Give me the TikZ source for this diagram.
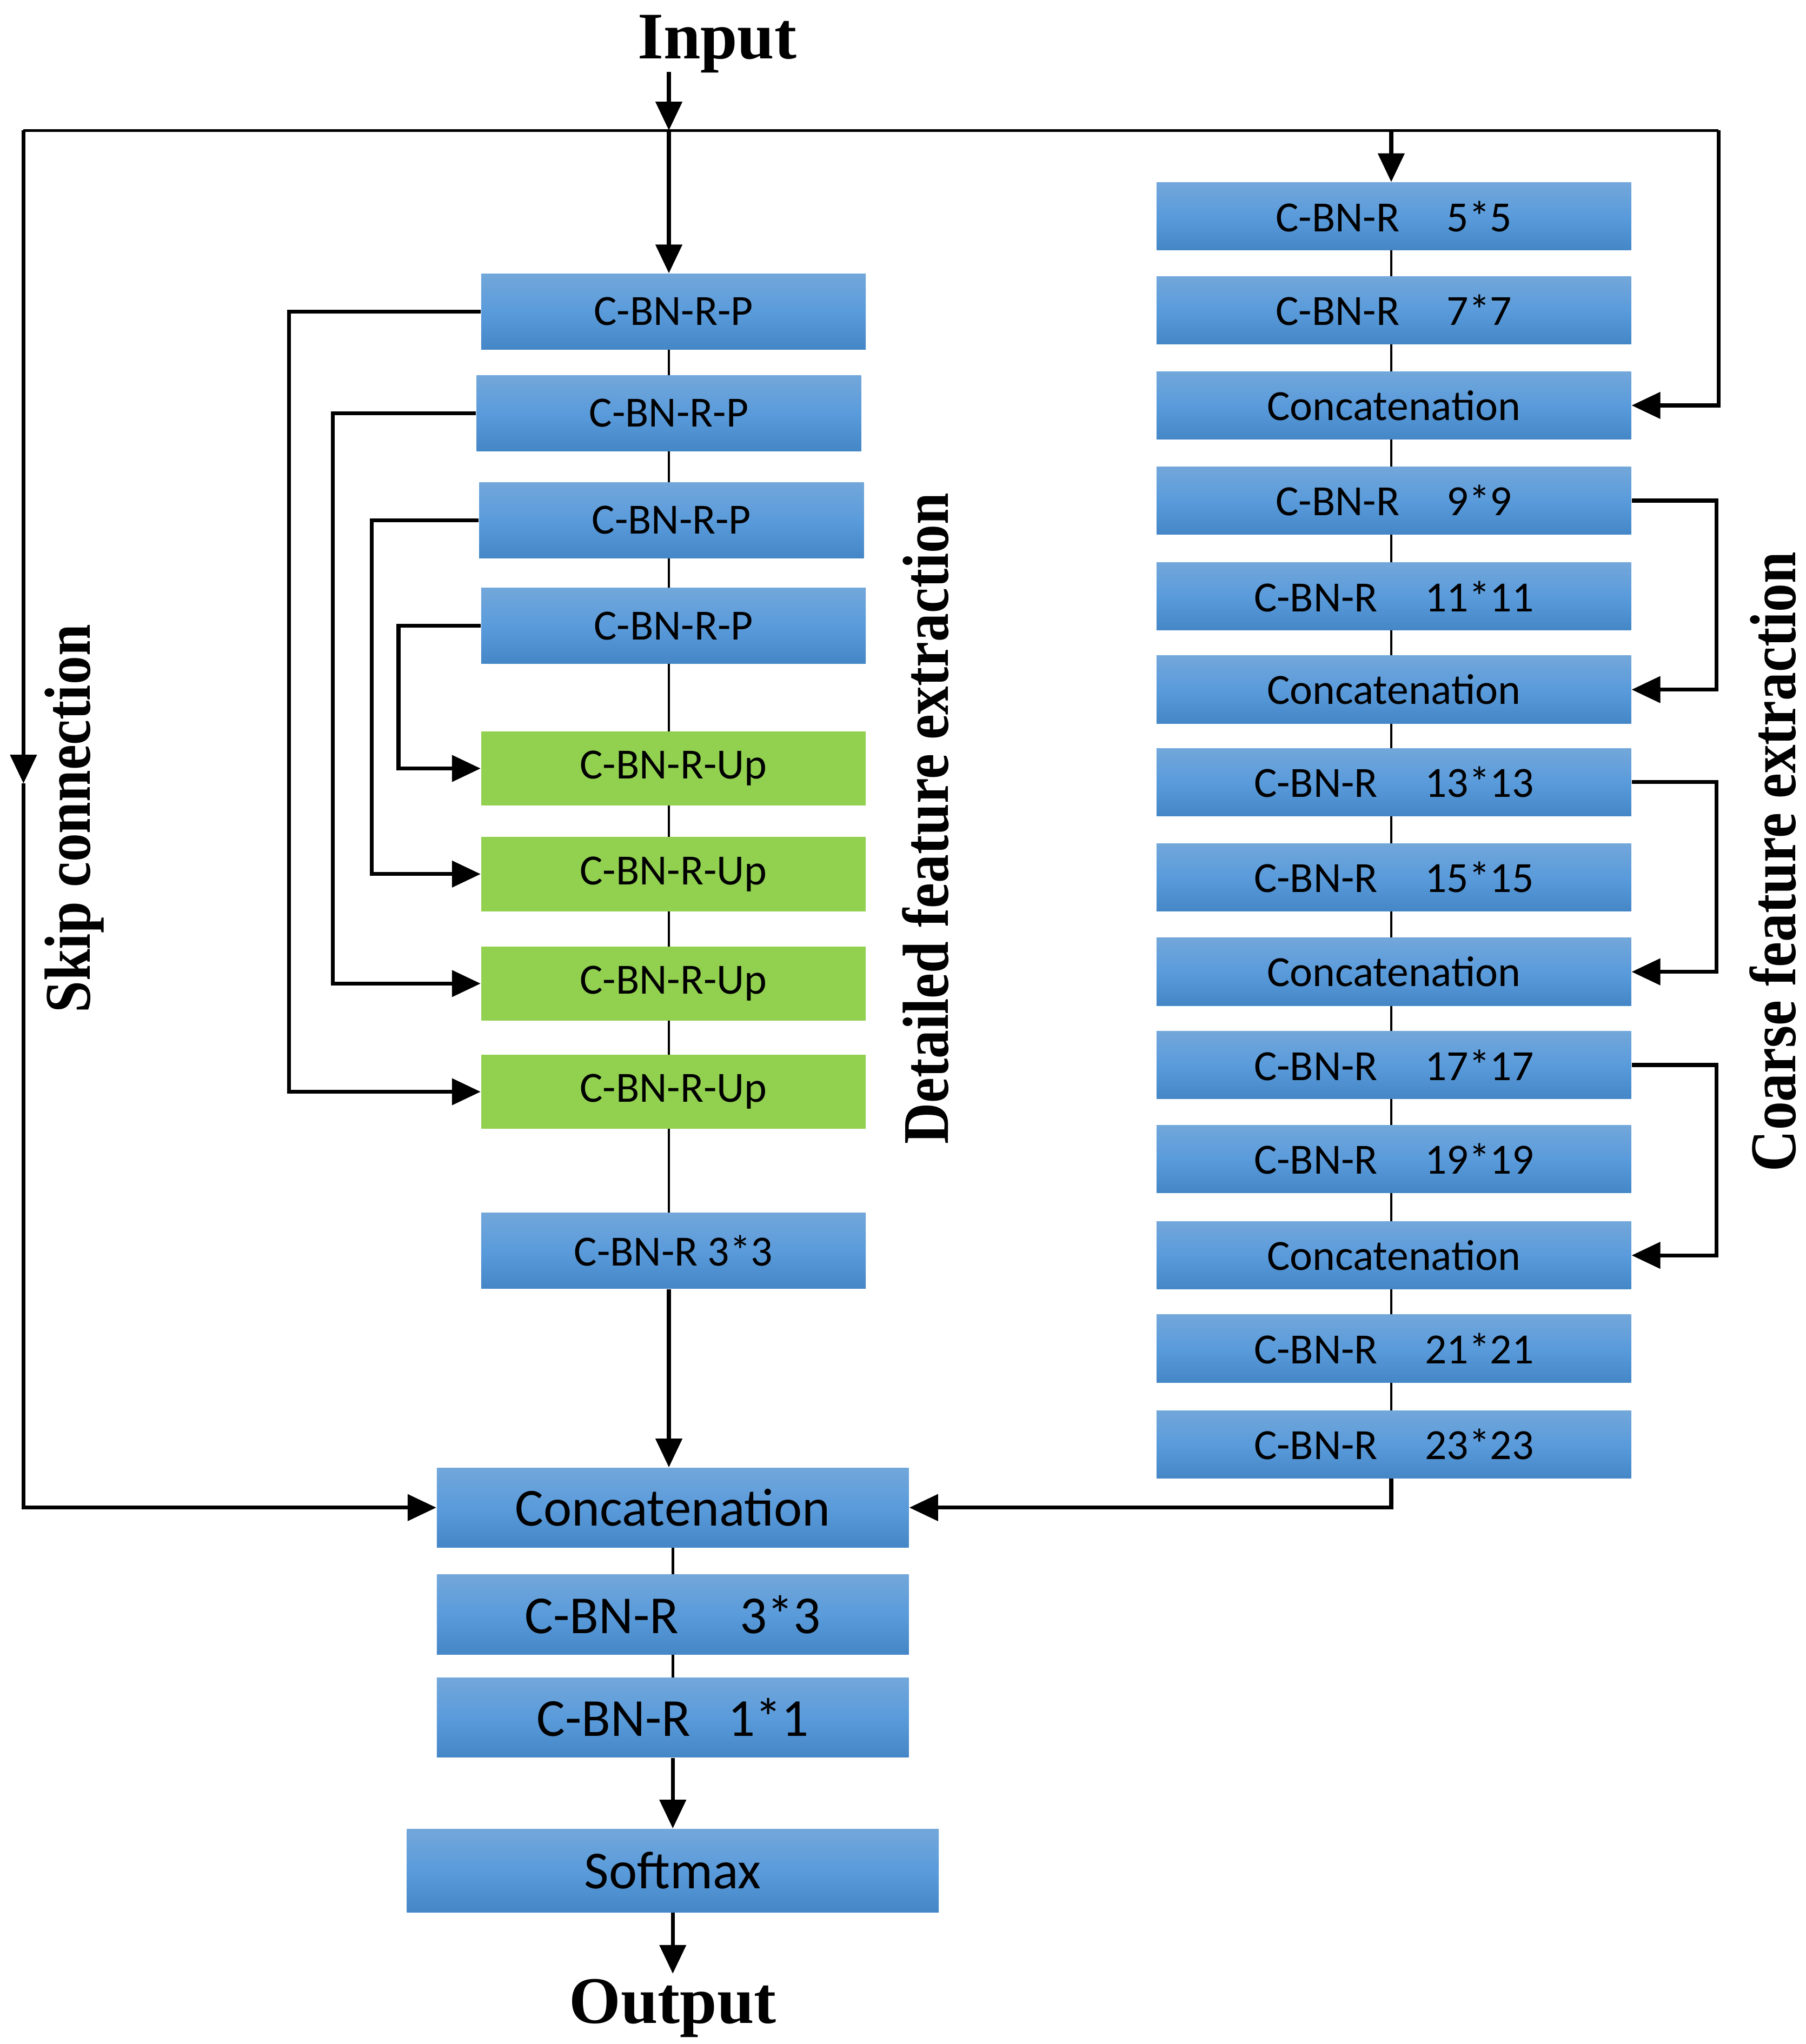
\documentclass[tikz,border=0pt]{standalone}
\usepackage{fontspec}
\setmainfont{Liberation Serif}
\newfontfamily\boxfont{Carlito}
\usepackage{xcolor}
\usetikzlibrary{arrows,arrows.meta,positioning,shapes,calc}
\pgfdeclarelayer{bg}
\pgfsetlayers{bg,main}
\definecolor{bluetop}{HTML}{72A7DA}
\definecolor{bluemid}{HTML}{5A9BDB}
\definecolor{bluebot}{HTML}{4587C6}
\definecolor{upgreen}{HTML}{92D050}
\tikzset{
  blk/.style={rectangle, inner sep=0pt, minimum width=147.5pt, minimum height=29pt,
    top color=bluetop, bottom color=bluebot, middle color=bluemid,
    font=\boxfont\fontsize{16.5}{19}\selectfont},
  upblk/.style={rectangle, inner sep=0pt, minimum width=147.5pt, minimum height=28.5pt,
    fill=upgreen, font=\boxfont\fontsize{16.5}{19}\selectfont},
  rblk/.style={blk, minimum width=182pt, minimum height=26pt},
  bigblk/.style={blk, minimum width=181pt, minimum height=30.5pt,
    font=\boxfont\fontsize{20.5}{24}\selectfont},
  title/.style={font=\bfseries\fontsize{25.5}{30}\selectfont},
  sidelab/.style={font=\bfseries\fontsize{25}{30}\selectfont, rotate=90, anchor=base, inner sep=0pt}
}
\begin{document}
\begin{tikzpicture}[x = .5pt, y = -.5pt, >={Triangle[length=11pt,width=10pt]}]
\useasboundingbox (0,0) rectangle (1385,1568);
\node[title, anchor=base] (input) at (550,45) {Input};
\node[title, anchor=base] (output) at (516,1552) {Output};
\node[sidelab] (skiplab) at (69,628) {\scalebox{.875}[1]{Skip connection}};
\node[sidelab] (detlab) at (727,628) {\scalebox{.875}[1]{Detailed feature extraction}};
\node[sidelab] (coalab) at (1377,661) {\scalebox{.875}[1]{Coarse feature extraction}};
% detailed branch
\node[blk] (p1) at (516.5,239) {C-BN-R-P};
\node[blk] (p2) at (513,317) {C-BN-R-P};
\node[blk] (p3) at (515,399) {C-BN-R-P};
\node[blk] (p4) at (516.5,480) {C-BN-R-P};
\node[upblk] (u1) at (516.5,589.5) {C-BN-R-Up};
\node[upblk] (u2) at (516.5,670.5) {C-BN-R-Up};
\node[upblk] (u3) at (516.5,754.5) {C-BN-R-Up};
\node[upblk] (u4) at (516.5,837.5) {C-BN-R-Up};
\node[blk] (c33) at (516.5,959.5) {C-BN-R 3*3};
% coarse branch
\node[rblk] (r1) at (1069,166) {C-BN-R\hspace{1.1em}5*5};
\node[rblk] (r2) at (1069,238) {C-BN-R\hspace{1.1em}7*7};
\node[rblk] (r3) at (1069,311) {Concatenation};
\node[rblk] (r4) at (1069,384) {C-BN-R\hspace{1.1em}9*9};
\node[rblk] (r5) at (1069,457.5) {C-BN-R\hspace{1.1em}11*11};
\node[rblk] (r6) at (1069,529) {Concatenation};
\node[rblk] (r7) at (1069,600) {C-BN-R\hspace{1.1em}13*13};
\node[rblk] (r8) at (1069,673) {C-BN-R\hspace{1.1em}15*15};
\node[rblk] (r9) at (1069,745.5) {Concatenation};
\node[rblk] (r10) at (1069,817) {C-BN-R\hspace{1.1em}17*17};
\node[rblk] (r11) at (1069,889) {C-BN-R\hspace{1.1em}19*19};
\node[rblk] (r12) at (1069,963) {Concatenation};
\node[rblk] (r13) at (1069,1034.5) {C-BN-R\hspace{1.1em}21*21};
\node[rblk] (r14) at (1069,1108) {C-BN-R\hspace{1.1em}23*23};
% head
\node[bigblk] (cat) at (516,1156.5) {Concatenation};
\node[bigblk] (b33) at (516,1238.5) {C-BN-R\hspace{1.15em}3*3};
\node[bigblk] (b11) at (516,1317.5) {C-BN-R\hspace{.7em}1*1};
\node[bigblk, minimum width=204pt, minimum height=32pt] (soft) at (516,1435) {Softmax};
\coordinate (ib) at (513,55);
\coordinate (tl) at (18,100);
\coordinate (tm) at (513,100);
\coordinate (tk) at (1067,100);
\coordinate (tr) at (1318,100);
\coordinate (sk) at (18,601);
\coordinate (ot) at (516,1514);
\begin{pgfonlayer}{bg}
\draw[line width=1pt] (tm |- p1.center) -- (tm |- c33.center);
\draw[line width=1pt] (tk |- r1.center) -- (tk |- r14.center);
\draw[line width=1pt] (cat.center) -- (b11.center);
\end{pgfonlayer}
\draw[line width=1pt] (tl) -- (tr);
\draw[->, line width=1.5pt] (ib) -- (tm);
\draw[->, line width=1.5pt] (tm) -- (p1.north -| tm);
\draw[->, line width=1.5pt] (tk) -- (r1.north -| tk);
\draw[->, line width=1.5pt] (tr) |- (r3.east);
\draw[->, line width=1.5pt] (tl) -- (sk);
\draw[->, line width=1.5pt] (sk) |- (cat.west);
\draw[->, line width=1.5pt] (p1.west) -- ++(-147,0) |- (u4.west);
\draw[->, line width=1.5pt] (p2.west) -- ++(-110,0) |- (u3.west);
\draw[->, line width=1.5pt] (p3.west) -- ++(-82,0) |- (u2.west);
\draw[->, line width=1.5pt] (p4.west) -- ++(-63,0) |- (u1.west);
\draw[->, line width=1.5pt] (r4.east) -- ++(65,0) |- (r6.east);
\draw[->, line width=1.5pt] (r7.east) -- ++(65,0) |- (r9.east);
\draw[->, line width=1.5pt] (r10.east) -- ++(65,0) |- (r12.east);
\draw[->, line width=1.5pt] (c33.south -| tm) -- (cat.north -| tm);
\draw[->, line width=1.5pt] (tk |- r14.south) |- (cat.east);
\draw[->, line width=1.5pt] (b11.south) -- (soft.north);
\draw[->, line width=1.5pt] (soft.south) -- (ot);
\end{tikzpicture}
\end{document}
